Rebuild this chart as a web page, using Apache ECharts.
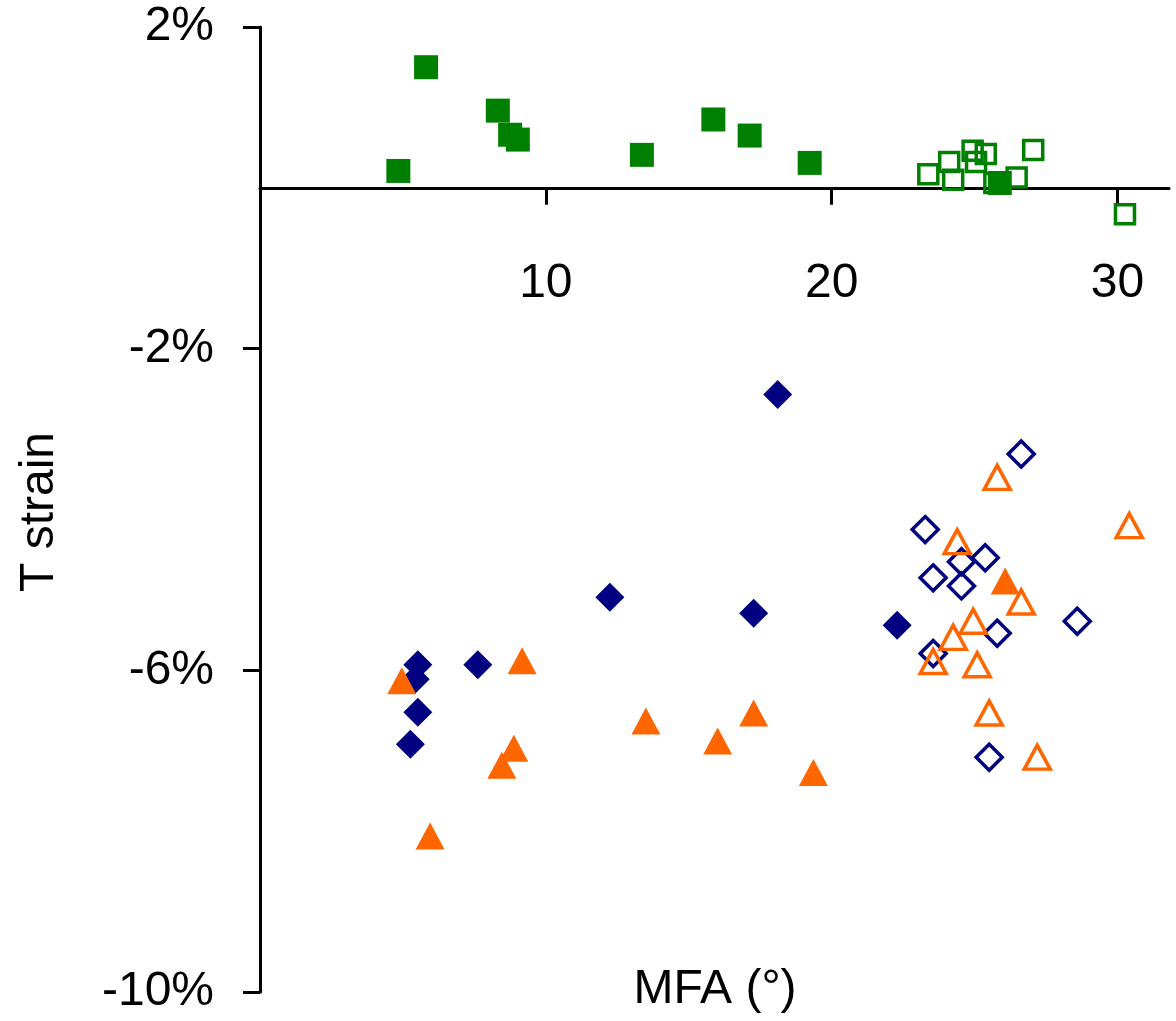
<!DOCTYPE html>
<html>
<head>
<meta charset="utf-8">
<title>T strain vs MFA</title>
<script src="https://cdn.jsdelivr.net/npm/echarts@6/dist/echarts.min.js"></script>
<style>
    html, body { margin: 0; padding: 0; background: #fff; }
    #main { width: 1176px; height: 1021px; }
</style>
</head>
<body>
<div id="main"></div>
<script>
// [MFA, T strain %]
var sqFilled = [[4.84,0.21],[5.81,1.50],[8.32,0.96],[8.75,0.66],[9.02,0.60],[13.36,0.41],[15.86,0.85],[17.13,0.65],[19.23,0.31],[25.88,0.06]];
var sqOpen = [[23.38,0.17],[24.11,0.32],[24.25,0.10],[24.93,0.46],[25.05,0.32],[25.39,0.42],[25.69,0.06],[26.47,0.13],[27.05,0.47],[30.26,-0.33]];
var dmFilled = [[5.26,-6.92],[5.43,-6.11],[5.52,-5.93],[5.52,-6.52],[7.62,-5.93],[12.24,-5.09],[17.27,-5.29],[18.11,-2.57],[22.29,-5.44]];
var dmOpen = [[23.27,-4.25],[23.55,-4.85],[23.55,-5.79],[24.54,-4.65],[24.54,-4.95],[25.37,-4.60],[25.51,-7.08],[25.79,-5.54],[26.63,-3.31],[28.59,-5.39]];
var trFilled = [[4.96,-6.13],[5.95,-8.06],[8.46,-7.18],[8.88,-6.97],[9.17,-5.88],[13.50,-6.63],[16.01,-6.88],[17.27,-6.53],[19.36,-7.27],[26.07,-4.89]];
var trOpen = [[23.55,-5.89],[24.25,-5.59],[24.39,-4.40],[24.95,-5.39],[25.09,-5.93],[25.51,-6.53],[25.79,-3.60],[26.63,-5.15],[27.19,-7.08],[30.41,-4.20]];

var xTicks = [10, 20, 30];
var yTicks = [2, -2, -6, -10];
var yMin = -10, yMax = 2;

var font = 'Liberation Sans, Arial, sans-serif';

// plot box
var gridTop = 27, gridBottom = 29, chartH = 1021;
var gridH = chartH - gridTop - gridBottom;
// x axis sits at T strain = 0
var zeroOffset = -gridH * (0 - yMin) / (yMax - yMin);

function openStyle(c) {
    return { color: 'rgba(0,0,0,0)', borderColor: c, borderWidth: 3.5, opacity: 1 };
}

var myChart = echarts.init(document.getElementById('main'));
var option = {
    animation: false,
    backgroundColor: '#fff',
    grid: { left: 260, right: 7, top: gridTop, bottom: gridBottom, containLabel: false, outerBoundsMode: 'none' },
    xAxis: {
        type: 'value',
        min: 0,
        max: 31.8,
        interval: 10,
        position: 'bottom',
        offset: zeroOffset,
        axisLine: { onZero: false, lineStyle: { color: '#000', width: 3 } },
        axisTick: { length: 17, lineStyle: { width: 3 }, customValues: xTicks },
        axisLabel: { customValues: xTicks, margin: 72, fontSize: 48, color: '#000', fontFamily: font },
        splitLine: { show: false }
    },
    yAxis: {
        type: 'value',
        min: yMin,
        max: yMax,
        interval: 2,
        axisLine: { show: true, onZero: false, lineStyle: { color: '#000', width: 3 } },
        axisTick: { show: true, length: 17, lineStyle: { width: 3 }, customValues: yTicks },
        axisLabel: {
            customValues: yTicks, margin: 46, fontSize: 48, color: '#000', fontFamily: font,
            formatter: '{value}%'
        },
        splitLine: { show: false }
    },
    graphic: [
        {
            type: 'text', x: 40, y: 512, rotation: Math.PI / 2,
            style: { text: 'T strain', fontSize: 48, fontFamily: font, fill: '#000', align: 'center', verticalAlign: 'middle' }
        },
        {
            type: 'text', x: 715, y: 990,
            style: { text: 'MFA (°)', fontSize: 48, fontFamily: font, fill: '#000', align: 'center', verticalAlign: 'middle' }
        }
    ],
    series: [
        { type: 'scatter', data: sqOpen, symbol: 'rect', symbolSize: 19, itemStyle: openStyle('#008000') },
        { type: 'scatter', data: sqFilled, symbol: 'rect', symbolSize: 24, itemStyle: { color: '#008000', opacity: 1 } },
        { type: 'scatter', data: dmFilled, symbol: 'diamond', symbolSize: 29, itemStyle: { color: '#000080', opacity: 1 } },
        { type: 'scatter', data: dmOpen, symbol: 'diamond', symbolSize: 26, itemStyle: openStyle('#000080') },
        { type: 'scatter', data: trFilled, symbol: 'triangle', symbolSize: [29, 27], itemStyle: { color: '#ff6600', opacity: 1 } },
        { type: 'scatter', data: trOpen, symbol: 'triangle', symbolSize: [26, 24], itemStyle: openStyle('#ff6600') }
    ]
};
myChart.setOption(option);
</script>
</body>
</html>
